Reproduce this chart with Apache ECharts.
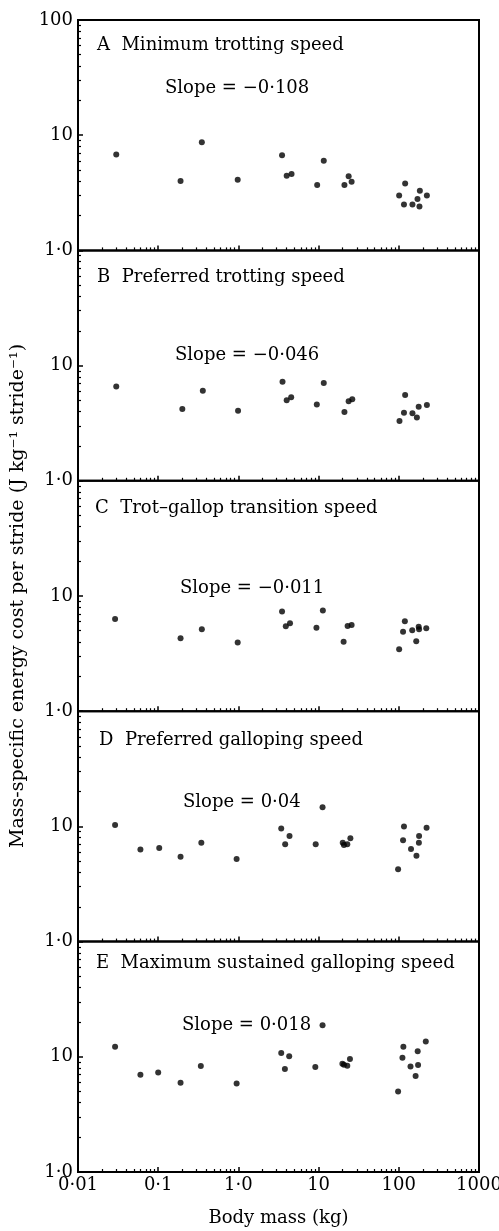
<!DOCTYPE html>
<html>
<head>
<meta charset="utf-8">
<script src="https://cdn.jsdelivr.net/npm/echarts@6/dist/echarts.min.js"></script>
<style>
  html, body { margin: 0; padding: 0; background: #fff; }
  #chart { width: 499px; height: 1231px; }
</style>
</head>
<body>
<div id="chart"></div>
<script>
// panel headings and slope notes
const panelTitles = [
    'A  Minimum trotting speed',
    'B  Preferred trotting speed',
    'C  Trot\u2013gallop transition speed',
    'D  Preferred galloping speed',
    'E  Maximum sustained galloping speed'
];
const slopeTexts = [
    'Slope = \u22120\u00b7108',
    'Slope = \u22120\u00b7046',
    'Slope = \u22120\u00b7011',
    'Slope = 0\u00b704',
    'Slope = 0\u00b7018'
];

// body mass (kg) and energy cost per stride (J kg-1 stride-1)
const massA = [0.03, 0.19, 0.35, 0.98, 3.5, 4.0, 4.6, 9.6, 11.6, 21, 23.7, 25.8, 120, 101, 116, 148, 171, 183, 224, 181];
const costA = [6.8, 4.0, 8.7, 4.1, 6.7, 4.45, 4.6, 3.7, 6.0, 3.7, 4.4, 3.95, 3.8, 3.0, 2.5, 2.5, 2.8, 3.3, 3.0, 2.4];

const massB = [0.03, 0.2, 0.36, 0.99, 3.55, 4.0, 4.55, 9.5, 11.6, 21, 23.7, 26.3, 102, 116, 120, 148, 168, 177, 224];
const costB = [6.6, 4.2, 6.05, 4.05, 7.25, 5.0, 5.3, 4.6, 7.05, 3.95, 4.9, 5.1, 3.3, 3.9, 5.55, 3.85, 3.55, 4.4, 4.55];

const massC = [0.029, 0.19, 0.35, 0.98, 3.5, 3.9, 4.4, 9.4, 11.3, 20.5, 23, 25.8, 101, 113, 119, 147, 165, 177, 179, 220];
const costC = [6.3, 4.3, 5.15, 3.95, 7.35, 5.45, 5.8, 5.3, 7.5, 4.0, 5.5, 5.6, 3.45, 4.9, 6.05, 5.05, 4.05, 5.4, 5.15, 5.25];

const massD = [0.029, 0.06, 0.103, 0.19, 0.345, 0.95, 3.42, 3.83, 4.34, 9.2, 11.2, 20, 20.7, 22.8, 24.9, 98, 113, 116, 142, 166, 178, 179, 222];
const costD = [10.3, 6.3, 6.5, 5.45, 7.2, 5.2, 9.6, 7.0, 8.25, 7.0, 14.7, 7.2, 6.9, 7.0, 7.9, 4.25, 7.6, 10.0, 6.35, 5.55, 7.2, 8.25, 9.75];

const massE = [0.029, 0.06, 0.1, 0.19, 0.34, 0.95, 3.42, 3.8, 4.3, 9.1, 11.2, 19.8, 20.7, 22.8, 24.6, 98, 111, 114, 140, 162, 174, 172, 217];
const costE = [12.2, 7.0, 7.3, 5.95, 8.3, 5.85, 10.8, 7.85, 10.1, 8.15, 18.8, 8.7, 8.55, 8.35, 9.55, 5.0, 9.8, 12.2, 8.25, 6.8, 8.5, 11.2, 13.6];

const massLists = [massA, massB, massC, massD, massE];
const costLists = [costA, costB, costC, costD, costE];

// tick labels
const xTickLabels = { '0.01': '0\u00b701', '0.1': '0\u00b71', '1': '1\u00b70', '10': '10', '100': '100', '1000': '1000' };
const yTickLabels = { '1': '1\u00b70', '10': '10', '100': '100' };

const font = 'DejaVu Serif';
const gridLeft = 78;
const gridWidth = 401;
const gridTop = 20;
const panelH = 230.4;

// minor tick positions (log10 units) for helper axes
const minorX = [];
for (let k = -2; k < 3; k++) {
    for (let m = 2; m <= 9; m++) minorX.push(k + Math.log10(m));
}
const minorY = [];
for (let k = 0; k < 2; k++) {
    for (let m = 2; m <= 9; m++) minorY.push(k + Math.log10(m));
}

function fmt(map, v) {
    const key = String(Number(v.toPrecision(6)));
    return map[key] !== undefined ? map[key] : '';
}

const grids = [];
const xAxes = [];
const yAxes = [];
const series = [];
const titles = [];

const titleTops = [36, 268, 499, 731, 954];
const titleLefts = [97, 97, 95, 99, 96];
const slopeTops = [79, 346, 579, 793, 1016];
const slopeLefts = [165, 175, 180, 183, 182];

for (let i = 0; i < 5; i++) {
    const last = i === 4;
    grids.push({
        left: gridLeft,
        width: gridWidth,
        top: gridTop + i * panelH,
        height: panelH,
        show: true,
        borderColor: '#000',
        borderWidth: 2,
        backgroundColor: 'transparent',
        outerBoundsMode: 'none'
    });

    xAxes.push({
        type: 'log',
        logBase: 10,
        gridIndex: i,
        min: 0.01,
        max: 1000,
        position: 'bottom',
        axisLine: { show: false, onZero: false },
        splitLine: { show: false },
        axisTick: { show: true, inside: true, length: 5, lineStyle: { color: '#000', width: 1.5 } },
        axisLabel: {
            show: last,
            margin: 4,
            color: '#000',
            fontFamily: font,
            fontSize: 18,
            formatter: v => fmt(xTickLabels, v)
        },
        name: last ? 'Body mass (kg)' : '',
        nameLocation: 'middle',
        nameGap: 37,
        nameTextStyle: { color: '#000', fontFamily: font, fontSize: 18 }
    });
    xAxes.push({
        type: 'value',
        gridIndex: i,
        min: -2,
        max: 3,
        position: 'bottom',
        axisLine: { show: false, onZero: false },
        splitLine: { show: false },
        axisLabel: { show: false },
        axisTick: { show: true, inside: true, length: 3, customValues: minorX, lineStyle: { color: '#000', width: 1.2 } }
    });

    yAxes.push({
        type: 'log',
        logBase: 10,
        gridIndex: i,
        min: 1,
        max: 100,
        position: 'left',
        axisLine: { show: false, onZero: false },
        splitLine: { show: false },
        axisTick: { show: true, inside: true, length: 5, lineStyle: { color: '#000', width: 1.5 } },
        axisLabel: {
            margin: 5,
            color: '#000',
            fontFamily: font,
            fontSize: 18,
            showMaxLabel: i === 0,
            formatter: v => fmt(yTickLabels, v)
        },
        name: i === 2 ? 'Mass-specific energy cost per stride (J kg\u207b\u00b9 stride\u207b\u00b9)' : '',
        nameLocation: 'middle',
        nameGap: 50,
        nameTextStyle: { color: '#000', fontFamily: font, fontSize: 19 }
    });
    yAxes.push({
        type: 'value',
        gridIndex: i,
        min: 0,
        max: 2,
        position: 'left',
        axisLine: { show: false, onZero: false },
        splitLine: { show: false },
        axisLabel: { show: false },
        axisTick: { show: true, inside: true, length: 3, customValues: minorY, lineStyle: { color: '#000', width: 1.2 } }
    });

    series.push({
        type: 'scatter',
        xAxisIndex: 2 * i,
        yAxisIndex: 2 * i,
        symbol: 'circle',
        symbolSize: 6,
        itemStyle: { color: '#000' },
        data: massLists[i].map((m, j) => [m, costLists[i][j]])
    });

    titles.push({
        text: panelTitles[i],
        left: titleLefts[i],
        top: titleTops[i],
        padding: 0,
        textStyle: { color: '#000', fontFamily: font, fontSize: 18, fontWeight: 'normal' }
    });
    titles.push({
        text: slopeTexts[i],
        left: slopeLefts[i],
        top: slopeTops[i],
        padding: 0,
        textStyle: { color: '#000', fontFamily: font, fontSize: 18, fontWeight: 'normal' }
    });
}

const myChart = echarts.init(document.getElementById('chart'), null, { renderer: 'canvas' });
myChart.setOption({
    animation: false,
    backgroundColor: '#fff',
    title: titles,
    grid: grids,
    xAxis: xAxes,
    yAxis: yAxes,
    series: series
});
</script>
</body>
</html>
